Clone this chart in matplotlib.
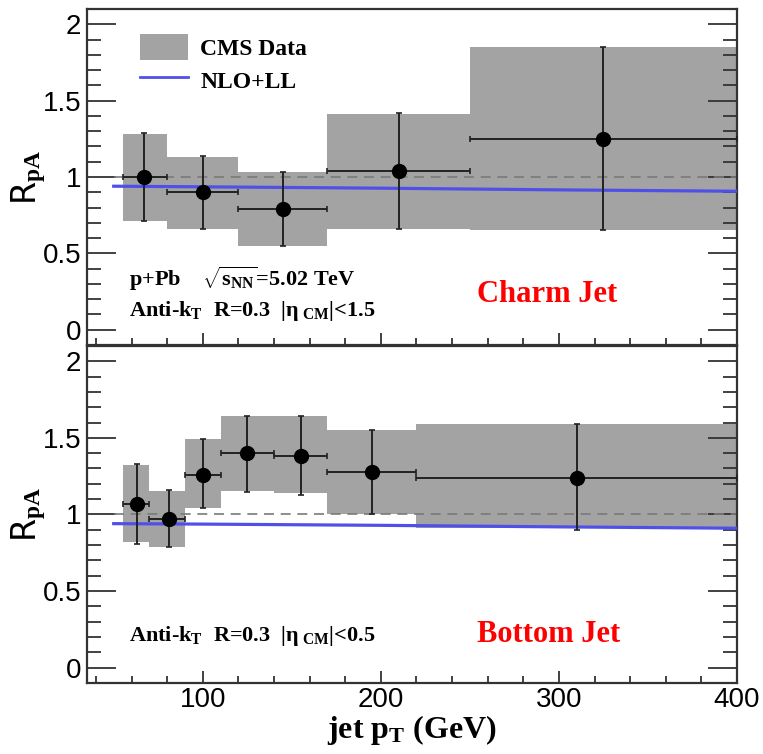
import matplotlib
matplotlib.use("Agg")
import matplotlib.pyplot as plt
from matplotlib.patches import Patch
from matplotlib.lines import Line2D
from matplotlib.ticker import MultipleLocator, FuncFormatter

plt.rcParams['mathtext.fontset'] = 'custom'
plt.rcParams['mathtext.rm'] = 'Liberation Serif:bold'
plt.rcParams['mathtext.bf'] = 'Liberation Serif:bold'
plt.rcParams['mathtext.it'] = 'Liberation Serif:bold'

# charm jet R_pA (bin edges, point position, value, stat / sys ranges)
charm_lo = [55, 80, 120, 170, 250]
charm_hi = [80, 120, 170, 250, 400]
charm_pt = [67, 100, 145, 210, 325]
charm_r = [1.00, 0.90, 0.79, 1.04, 1.25]
charm_stat_lo = [0.71, 0.66, 0.55, 0.66, 0.65]
charm_stat_hi = [1.29, 1.14, 1.03, 1.42, 1.85]
charm_sys_lo = [0.71, 0.66, 0.55, 0.66, 0.65]
charm_sys_hi = [1.28, 1.13, 1.03, 1.41, 1.85]

# bottom jet R_pA
bottom_lo = [55, 70, 90, 110, 140, 170, 220]
bottom_hi = [70, 90, 110, 140, 170, 220, 400]
bottom_pt = [63, 81, 100, 125, 155, 195, 310]
bottom_r = [1.07, 0.97, 1.26, 1.40, 1.38, 1.28, 1.24]
bottom_stat_lo = [0.81, 0.79, 1.04, 1.145, 1.13, 1.005, 0.90]
bottom_stat_hi = [1.33, 1.16, 1.49, 1.64, 1.64, 1.55, 1.59]
bottom_sys_lo = [0.82, 0.79, 1.04, 1.15, 1.14, 1.00, 0.91]
bottom_sys_hi = [1.32, 1.15, 1.49, 1.64, 1.64, 1.55, 1.59]

# NLO+LL curves
nlo_pt = [50, 100, 200, 300, 400]
nlo_charm = [0.94, 0.936, 0.927, 0.916, 0.907]
nlo_bottom = [0.94, 0.937, 0.929, 0.919, 0.91]

BAND = '#a3a3a3'
BLUE = '#5050e8'
SERIF = 'Liberation Serif'


def tick_fmt(v, pos):
    return ('%g' % round(v, 3))


def draw_panel(ax, lo, hi, pt, r, slo, shi, ylo, yhi, nlo):
    widths = [h - l for l, h in zip(lo, hi)]
    ax.bar(lo, [h - l for l, h in zip(ylo, yhi)], bottom=ylo, width=widths,
           align='edge', color=BAND, linewidth=0, zorder=1)
    ax.plot([50, 400], [1, 1], ls=(0, (6, 4)), color='#7a7a7a', lw=1.2, zorder=2)
    ax.plot(nlo_pt, nlo, color=BLUE, lw=2.3, zorder=3)
    xerr = [[p - l for p, l in zip(pt, lo)], [h - p for p, h in zip(pt, hi)]]
    yerr = [[v - s for v, s in zip(r, slo)], [s - v for v, s in zip(r, shi)]]
    ax.errorbar(pt, r, xerr=xerr, yerr=yerr, fmt='o', color='black', ms=10,
                elinewidth=1.4, capsize=2, capthick=1.2, ecolor='#222222', zorder=4)

    ax.set_xlim(35, 400)
    ax.set_ylim(-0.1, 2.1)
    ax.yaxis.set_major_locator(MultipleLocator(0.5))
    ax.yaxis.set_minor_locator(MultipleLocator(0.1))
    ax.xaxis.set_major_locator(MultipleLocator(100))
    ax.xaxis.set_minor_locator(MultipleLocator(20))
    ax.yaxis.set_major_formatter(FuncFormatter(tick_fmt))
    ax.tick_params(axis='y', which='major', direction='in', length=21, width=1.3,
                   left=True, right=True, labelsize=20, color='#333333', pad=4)
    ax.tick_params(axis='y', which='minor', direction='in', length=10, width=1.3,
                   left=True, right=True, color='#333333')
    ax.tick_params(axis='x', which='major', direction='in', length=9, width=1.3,
                   top=False, labelsize=20, color='#333333', pad=3)
    ax.tick_params(axis='x', which='minor', direction='in', length=5, width=1.3,
                   top=False, color='#333333')
    for lab in ax.get_xticklabels() + ax.get_yticklabels():
        lab.set_family('Liberation Sans')
    for s in ax.spines.values():
        s.set_linewidth(1.6)
        s.set_color('#333333')
    ax.set_ylabel(r'R$_{\rm pA}$', fontsize=24)
    ax.yaxis.set_label_coords(-0.06, 0.5)


fig = plt.figure(figsize=(7.63, 7.54), dpi=100)
ax1 = fig.add_axes([0.114, 0.5424, 0.852, 0.4456])
ax2 = fig.add_axes([0.114, 0.0942, 0.852, 0.447])

draw_panel(ax1, charm_lo, charm_hi, charm_pt, charm_r, charm_stat_lo, charm_stat_hi,
           charm_sys_lo, charm_sys_hi, nlo_charm)
draw_panel(ax2, bottom_lo, bottom_hi, bottom_pt, bottom_r, bottom_stat_lo, bottom_stat_hi,
           bottom_sys_lo, bottom_sys_hi, nlo_bottom)
ax1.tick_params(axis='x', labelbottom=False)

handles = [Patch(facecolor=BAND, edgecolor='none'), Line2D([], [], color=BLUE, lw=2)]
ax1.legend(handles, ['CMS Data', 'NLO+LL'], loc='upper left', bbox_to_anchor=(0.082, 0.925),
           frameon=False, handlelength=2.0, handleheight=1.3, handletextpad=0.55,
           labelspacing=0.3, borderaxespad=0, borderpad=0,
           prop={'family': SERIF, 'weight': 'bold', 'size': 17})

ax1.text(0.065, 0.197, r'p+Pb    $\sqrt{s_{\rm NN}}$=5.02 TeV', transform=ax1.transAxes,
         family=SERIF, weight='bold', fontsize=16, va='center')
ax1.text(0.065, 0.1, r'Anti-k$_{\rm T}$  R=0.3  |$\eta_{\rm\ CM}$|<1.5', transform=ax1.transAxes,
         family=SERIF, weight='bold', fontsize=16, va='center')
ax1.text(0.6, 0.15, 'Charm Jet', transform=ax1.transAxes, family=SERIF, weight='bold',
         fontsize=22, color='#ff0000', va='center')

ax2.text(0.065, 0.14, r'Anti-k$_{\rm T}$  R=0.3  |$\eta_{\rm\ CM}$|<0.5', transform=ax2.transAxes,
         family=SERIF, weight='bold', fontsize=16, va='center')
ax2.text(0.6, 0.145, 'Bottom Jet', transform=ax2.transAxes, family=SERIF, weight='bold',
         fontsize=22, color='#ff0000', va='center')

ax2.set_xlabel(r'jet p$_{\rm T}$ (GeV)', family=SERIF, weight='bold', fontsize=23, labelpad=0)

fig.savefig('out.png', dpi=100)
